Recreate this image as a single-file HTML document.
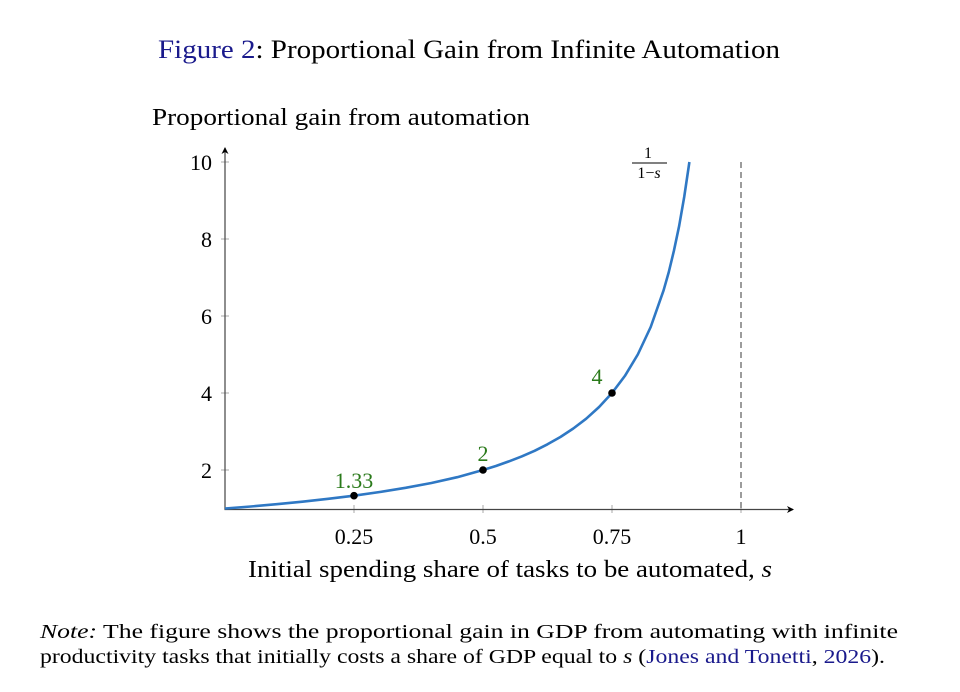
<!DOCTYPE html>
<html><head><meta charset="utf-8"><style>
body{margin:0;background:#fff;width:960px;height:687px;overflow:hidden;font-family:"Liberation Serif",serif;}
svg text{font-family:"Liberation Serif",serif;}
</style></head><body>
<svg width="960" height="687" viewBox="0 0 960 687">
<defs><marker id="ar" markerWidth="8" markerHeight="8" refX="6" refY="4" orient="auto" markerUnits="userSpaceOnUse"><path d="M0,0.5 L7,4 L0,7.5 L2,4 Z" fill="#000"/></marker></defs>
<text x="158" y="58" font-size="26" textLength="622" lengthAdjust="spacingAndGlyphs"><tspan fill="#1a1a8c">Figure 2</tspan>: Proportional Gain from Infinite Automation</text>
<text x="152" y="125" font-size="24" textLength="378" lengthAdjust="spacingAndGlyphs">Proportional gain from automation</text>
<g stroke="#aaa" stroke-width="1">
<line x1="221" y1="162" x2="229" y2="162"/><line x1="221" y1="239" x2="229" y2="239"/><line x1="221" y1="316" x2="229" y2="316"/><line x1="221" y1="393" x2="229" y2="393"/><line x1="221" y1="470" x2="229" y2="470"/>
<line x1="354" y1="505" x2="354" y2="513"/><line x1="483" y1="505" x2="483" y2="513"/><line x1="612" y1="505" x2="612" y2="513"/><line x1="741" y1="505" x2="741" y2="513"/>
</g>
<line x1="225" y1="509.5" x2="225" y2="148" stroke="#444" stroke-width="1.2" marker-end="url(#ar)"/>
<line x1="224.5" y1="509.5" x2="793" y2="509.5" stroke="#444" stroke-width="1.2" marker-end="url(#ar)"/>
<line x1="741" y1="162" x2="741" y2="509" stroke="#666" stroke-width="1.3" stroke-dasharray="6,4"/>
<g font-size="22" text-anchor="end"><text x="212" y="170">10</text><text x="212" y="247">8</text><text x="212" y="324">6</text><text x="212" y="401">4</text><text x="212" y="478">2</text></g>
<g font-size="22" text-anchor="middle"><text x="354" y="544">0.25</text><text x="483" y="544">0.5</text><text x="612" y="544">0.75</text><text x="741" y="544">1</text></g>
<text x="248" y="577" font-size="24" textLength="524" lengthAdjust="spacingAndGlyphs">Initial spending share of tasks to be automated, <tspan font-style="italic">s</tspan></text>
<polyline fill="none" stroke="#2f78c4" stroke-width="2.6" stroke-linejoin="round" points="225.0,508.5 250.8,506.5 276.6,504.2 302.4,501.7 328.2,498.8 354.0,495.7 379.8,492.0 405.6,487.8 431.4,483.0 457.2,477.2 483.0,470.0 495.9,466.0 508.8,461.4 521.7,456.4 534.6,450.8 547.5,444.3 560.4,437.0 573.3,428.5 586.2,418.7 599.1,407.0 612.0,393.0 624.9,375.9 637.8,354.5 650.7,327.0 663.6,290.3 668.8,272.0 673.9,250.8 679.1,226.2 684.2,197.0 689.4,162.0"/>
<g fill="#000"><circle cx="354" cy="495.7" r="3.8"/><circle cx="483" cy="470" r="3.8"/><circle cx="612" cy="393" r="3.8"/></g>
<g fill="#2a7a1a" font-size="22" text-anchor="middle"><text x="354" y="488">1.33</text><text x="483" y="461">2</text><text x="597" y="384">4</text></g>
<text x="648" y="158" font-size="16" text-anchor="middle">1</text>
<line x1="632" y1="163" x2="667" y2="163" stroke="#000" stroke-width="0.9"/>
<text x="649" y="178" font-size="16" text-anchor="middle">1−<tspan font-style="italic">s</tspan></text>
<text x="40" y="638" font-size="20.5" textLength="858" lengthAdjust="spacingAndGlyphs"><tspan font-style="italic">Note:</tspan>  The figure shows the proportional gain in GDP from automating with infinite</text>
<text x="40" y="663" font-size="20.5" textLength="845" lengthAdjust="spacingAndGlyphs">productivity tasks that initially costs a share of GDP equal to <tspan font-style="italic">s</tspan> (<tspan fill="#1a1a8c">Jones and Tonetti</tspan>, <tspan fill="#1a1a8c">2026</tspan>).</text>
</svg>
</body></html>
